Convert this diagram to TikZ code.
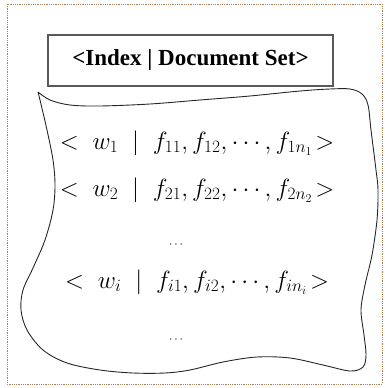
\documentclass[tikz,border=0pt]{standalone}
\usepackage{fontspec}
\newfontfamily\titlefont{Liberation Serif}
\begin{document}
\begin{tikzpicture}[x=1pt,y=-1pt,
  frame/.style={draw=brown!60!gray, densely dotted, line width=0.8pt},
  titlebox/.style={draw=gray!70!black, line width=1.6pt, minimum width=285pt, minimum height=51pt, inner sep=0pt, font=\titlefont\bfseries\fontsize{23}{26}\selectfont},
  entry/.style={inner sep=0pt, font=\fontsize{23}{27}\selectfont},
  dotsnode/.style={inner sep=0pt, font=\fontsize{13}{15}\selectfont},
  wave/.style={draw=black!85, line width=0.9pt}]
\useasboundingbox (0,0) rectangle (385,388);
\draw[frame] (7,4) rectangle (382,384);
\node[titlebox] (title) at (190.5,60.5) {<Index | Document Set>};
\draw[wave] plot[smooth, tension=0.55] coordinates {
 (38,92) (50,100) (70,105) (100,106) (150,104) (200,100) (250,96) (300,91) (330,89) (350,89) (362,94) (368,105) (371,130) (376,170) (378,190) (377,220) (372,255) (365,285) (361,310) (364,335) (366,355) (363,367) (350,371) (323,365) (290,358) (257,357) (223,362) (190,370) (165,373) (133,373) (100,370) (67,363) (43,350) (27,330) (21,310) (23,290) (33,268) (45,240) (53,210) (55,185) (53,160) (47,130) (40,100) (38,92)};
\node[entry] (e1) at (197,143) {$<\;w_1\;\mid\;f_{11},f_{12},\cdots,f_{1n_1}\!>$};
\node[entry] (e2) at (197,190) {$<\;w_2\;\mid\;f_{21},f_{22},\cdots,f_{2n_2}\!>$};
\node[dotsnode] (d1) at (176,245) {$\cdots$};
\node[entry] (ei) at (197,282) {$<\;w_i\;\mid\;f_{i1},f_{i2},\cdots,f_{in_i}\!>$};
\node[dotsnode] (d2) at (176,340) {$\cdots$};
\end{tikzpicture}
\end{document}
